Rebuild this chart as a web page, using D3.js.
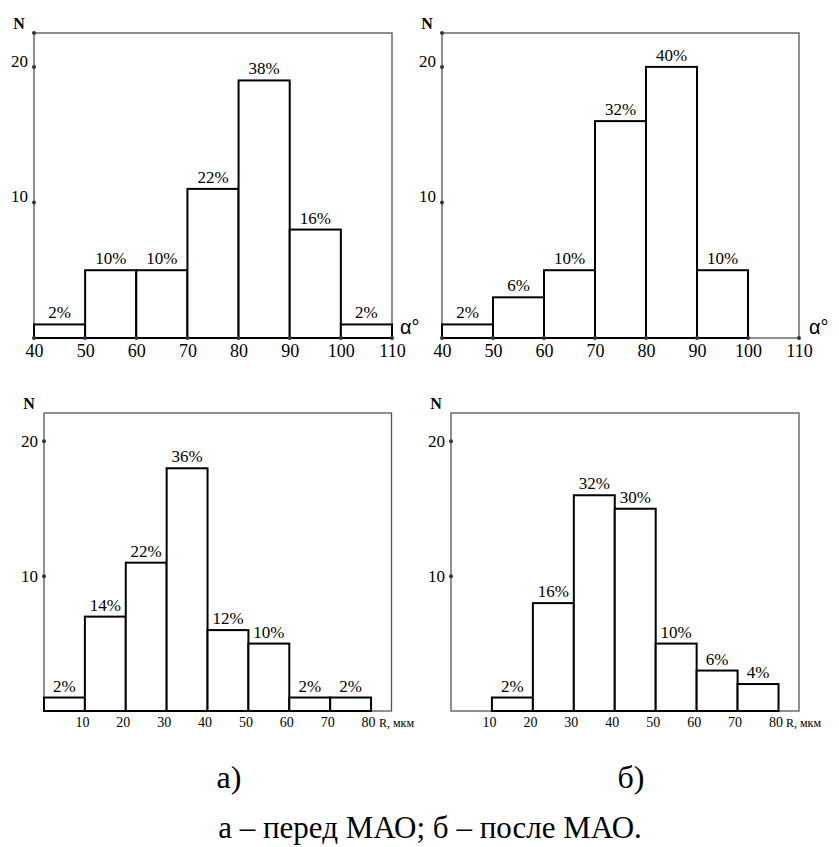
<!DOCTYPE html>
<html>
<head>
<meta charset="utf-8">
<script src="https://cdn.jsdelivr.net/npm/d3@7"></script>
<style>
  body { margin: 0; background: #fff; }
</style>
</head>
<body>
<div id="chart"></div>
<script>
// Chart size
var width = 839;
var height = 847;
var serif = "'Liberation Serif', 'DejaVu Serif', serif";

// Data: contact angle (top) and radius (bottom), before (а) and after (б) MAO
var angleTicks = [40, 50, 60, 70, 80, 90, 100, 110];
var angleStartA = [40, 50, 60, 70, 80, 90, 100];
var angleCountsA = [1, 5, 5, 11, 19, 8, 1];
var anglePctA = ["2%", "10%", "10%", "22%", "38%", "16%", "2%"];
var angleStartB = [40, 50, 60, 70, 80, 90];
var angleCountsB = [1, 3, 5, 16, 20, 5];
var anglePctB = ["2%", "6%", "10%", "32%", "40%", "10%"];

var radiusTicks = [10, 20, 30, 40, 50, 60, 70, 80];
var radiusStartA = [0, 10, 20, 30, 40, 50, 60, 70];
var radiusCountsA = [1, 7, 11, 18, 6, 5, 1, 1];
var radiusPctA = ["2%", "14%", "22%", "36%", "12%", "10%", "2%", "2%"];
var radiusStartB = [10, 20, 30, 40, 50, 60, 70];
var radiusCountsB = [1, 8, 16, 15, 5, 3, 2];
var radiusPctB = ["2%", "16%", "32%", "30%", "10%", "6%", "4%"];

var yTicks = [10, 20];
var binWidth = 10;

var svg = d3.select("#chart")
    .append("svg")
    .attr("width", width)
    .attr("height", height);

function drawPanel(p) {
    var x = d3.scaleLinear().domain(p.xDomain).range([p.left, p.right]);
    var y = d3.scaleLinear().domain([0, p.yMax]).range([p.bottom, p.top]);
    var g = svg.append("g");

    // frame
    g.append("rect")
        .attr("x", p.left).attr("y", p.top)
        .attr("width", p.right - p.left).attr("height", p.bottom - p.top)
        .attr("fill", "none").attr("stroke", "#555").attr("stroke-width", 1.3);

    // bars
    var bars = p.starts.map(function (s, i) { return { s: s, n: p.counts[i], pct: p.pct[i] }; });
    g.selectAll("rect.bar")
        .data(bars)
        .enter()
        .append("rect")
        .attr("class", "bar")
        .attr("x", function (d) { return x(d.s); })
        .attr("y", function (d) { return y(d.n); })
        .attr("width", function (d) { return x(d.s + binWidth) - x(d.s); })
        .attr("height", function (d) { return y(0) - y(d.n); })
        .attr("fill", "#fff")
        .attr("stroke", "#000")
        .attr("stroke-width", 2);

    g.selectAll("text.pct")
        .data(bars)
        .enter()
        .append("text")
        .attr("class", "pct")
        .attr("x", function (d) { return x(d.s + binWidth / 2); })
        .attr("y", function (d) { return y(d.n) - 6; })
        .attr("text-anchor", "middle")
        .style("font-family", serif)
        .style("font-size", "17px")
        .text(function (d) { return d.pct; });

    // x axis
    var xAxis = g.append("g")
        .attr("transform", "translate(0," + p.bottom + ")")
        .call(d3.axisBottom(x).tickValues(p.xTicks).tickSize(0).tickPadding(p.xPad));
    xAxis.select(".domain").remove();
    xAxis.selectAll("text")
        .style("font-family", serif)
        .style("font-size", p.xFont + "px")
        .attr("dx", p.xDx)
        .attr("fill", "#000");

    // y axis
    var yAxis = g.append("g")
        .attr("transform", "translate(" + p.left + ",0)")
        .call(d3.axisLeft(y).tickValues(yTicks).tickSize(0).tickPadding(6));
    yAxis.select(".domain").remove();
    yAxis.selectAll("text")
        .style("font-family", serif)
        .style("font-size", "17px")
        .attr("fill", "#000")
        .attr("dy", p.yDy);

    // dot markers on axis ticks
    g.selectAll("circle.ydot")
        .data(yTicks)
        .enter()
        .append("circle")
        .attr("cx", p.left).attr("cy", function (d) { return y(d); })
        .attr("r", 2).attr("fill", "#333");
    if (p.xDots) {
        g.selectAll("circle.xdot")
            .data(p.xTicks)
            .enter()
            .append("circle")
            .attr("cx", function (d) { return x(d); }).attr("cy", p.bottom)
            .attr("r", 2).attr("fill", "#333");
        g.append("circle").attr("cx", p.left).attr("cy", p.top).attr("r", 2).attr("fill", "#333");
    }

    // axis titles
    g.append("text")
        .attr("x", p.left - 15).attr("y", p.top - 4)
        .attr("text-anchor", "middle")
        .style("font-family", serif)
        .style("font-size", "16px").style("font-weight", "bold")
        .text("N");
    g.append("text")
        .attr("x", p.xLabelX).attr("y", p.xLabelY)
        .style("font-size", p.xLabelFont + "px")
        .style("font-family", p.xLabelFamily)
        .text(p.xLabel);
}

drawPanel({
    left: 34, right: 392, top: 33, bottom: 338, xDomain: [40, 110], yMax: 22.5,
    starts: angleStartA, counts: angleCountsA, pct: anglePctA,
    xTicks: angleTicks, xPad: 6, xFont: 18, xDx: 0, yDy: "-0.05em", xDots: true,
    xLabel: "α°", xLabelX: 400, xLabelY: 334, xLabelFont: 20, xLabelFamily: "'Liberation Sans', sans-serif"
});
drawPanel({
    left: 442, right: 799, top: 33, bottom: 338, xDomain: [40, 110], yMax: 22.5,
    starts: angleStartB, counts: angleCountsB, pct: anglePctB,
    xTicks: angleTicks, xPad: 6, xFont: 18, xDx: 0, yDy: "-0.05em", xDots: true,
    xLabel: "α°", xLabelX: 809, xLabelY: 334, xLabelFont: 20, xLabelFamily: "'Liberation Sans', sans-serif"
});
drawPanel({
    left: 44, right: 391.5, top: 413, bottom: 711, xDomain: [0, 85], yMax: 22.1,
    starts: radiusStartA, counts: radiusCountsA, pct: radiusPctA,
    xTicks: radiusTicks, xPad: 6, xFont: 14, xDx: -3, yDy: "0.3em", xDots: false,
    xLabel: "R, мкм", xLabelX: 379, xLabelY: 727, xLabelFont: 12, xLabelFamily: serif
});
drawPanel({
    left: 451, right: 799, top: 413, bottom: 711, xDomain: [0, 85], yMax: 22.1,
    starts: radiusStartB, counts: radiusCountsB, pct: radiusPctB,
    xTicks: radiusTicks, xPad: 6, xFont: 14, xDx: -3, yDy: "0.3em", xDots: false,
    xLabel: "R, мкм", xLabelX: 786, xLabelY: 727, xLabelFont: 12, xLabelFamily: serif
});

// sub-captions
svg.append("text").attr("x", 229).attr("y", 788).attr("text-anchor", "middle")
    .style("font-family", serif).style("font-size", "32px").text("а)");
svg.append("text").attr("x", 631).attr("y", 788).attr("text-anchor", "middle")
    .style("font-family", serif).style("font-size", "32px").text("б)");
svg.append("text").attr("x", 430).attr("y", 838).attr("text-anchor", "middle")
    .style("font-family", serif).style("font-size", "31px").text("а – перед МАО; б – после МАО.");
</script>
</body>
</html>
